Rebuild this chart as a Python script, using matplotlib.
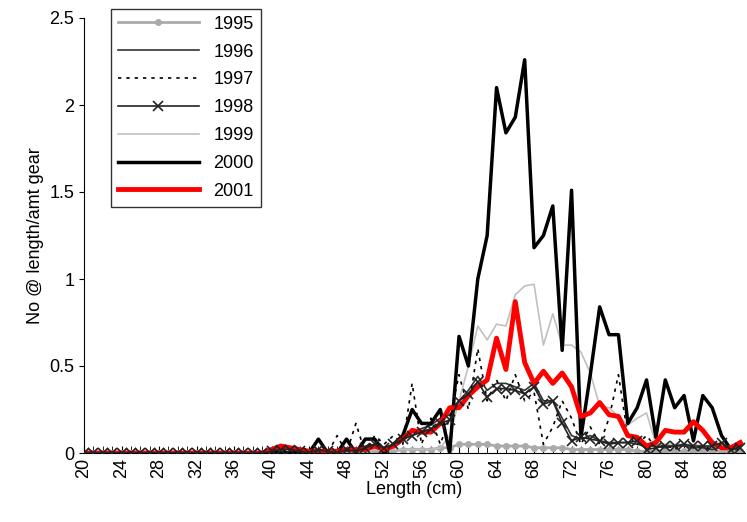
import matplotlib.pyplot as plt

plt.rcParams['font.family'] = ['Liberation Sans', 'DejaVu Sans']

lengths = list(range(20, 91))
zeros_20_39 = [0.0] * 20

# values for 40..90 (51 each)
y1995 = zeros_20_39 + [0, 0, 0, 0, 0, 0, 0, 0, 0, 0.01, 0.01, 0.01, 0, 0.01, 0.02, 0.02, 0.02, 0.02, 0.03, 0.03,
                       0.05, 0.05, 0.05, 0.05, 0.04, 0.04, 0.04, 0.04, 0.03, 0.03, 0.03, 0.03, 0.02, 0.02, 0.02,
                       0.02, 0.02, 0.02, 0.02, 0.01, 0.01, 0.01, 0.01, 0.01, 0.01, 0.01, 0.01, 0.01, 0.01, 0.01, 0.01]
y1996 = zeros_20_39 + [0.01, 0, 0.01, 0, 0, 0.02, 0, 0, 0.02, 0, 0.04, 0.05, 0.02, 0.05, 0.1, 0.12, 0.14, 0.16, 0.2, 0.22,
                       0.3, 0.36, 0.44, 0.36, 0.4, 0.4, 0.38, 0.36, 0.4, 0.3, 0.3, 0.2, 0.1, 0.08, 0.1, 0.07, 0.06,
                       0.06, 0.06, 0.05, 0.04, 0.04, 0.03, 0.04, 0.04, 0.03, 0.03, 0.02, 0.03, 0.02, 0.03]
y1997 = zeros_20_39 + [0, 0.02, 0, 0.02, 0, 0.03, 0, 0.1, 0, 0.17, 0, 0.1, 0.05, 0.1, 0.05, 0.4, 0.05, 0.2, 0.05, 0.2,
                       0.45, 0.25, 0.6, 0.3, 0.42, 0.3, 0.45, 0.3, 0.35, 0.05, 0.15, 0.3, 0.2, 0.05, 0.15, 0.05,
                       0.2, 0.45, 0.1, 0.05, 0.1, 0.03, 0.05, 0.02, 0.05, 0.03, 0.04, 0.02, 0.06, 0.02, 0.02]
y1998 = zeros_20_39 + [0.01, 0.02, 0.02, 0.01, 0, 0.02, 0.01, 0, 0.02, 0.01, 0.03, 0.05, 0.03, 0.05, 0.08, 0.1, 0.12, 0.14,
                       0.17, 0.19, 0.3, 0.34, 0.41, 0.32, 0.37, 0.37, 0.36, 0.34, 0.38, 0.28, 0.3, 0.17, 0.07, 0.09,
                       0.08, 0.07, 0.05, 0.06, 0.06, 0.07, 0.02, 0.03, 0.04, 0.04, 0.05, 0.04, 0.04, 0.04, 0.06, 0.02, 0.03]
y1999 = zeros_20_39 + [0, 0, 0, 0, 0.01, 0, 0, 0, 0.01, 0.01, 0.01, 0.02, 0.02, 0.02, 0.02, 0.02, 0.02, 0.02, 0.03, 0.1,
                       0.3, 0.5, 0.73, 0.65, 0.74, 0.73, 0.91, 0.96, 0.97, 0.62, 0.8, 0.62, 0.62, 0.58, 0.46, 0.27,
                       0.26, 0.21, 0.16, 0.2, 0.23, 0.05, 0.05, 0.05, 0.05, 0.05, 0.04, 0.04, 0.03, 0.02, 0.03]
y2000 = zeros_20_39 + [0, 0, 0, 0, 0, 0.08, 0, 0, 0.08, 0, 0.08, 0.08, 0, 0.05, 0.1, 0.25, 0.17, 0.17, 0.25, 0,
                       0.67, 0.5, 1.0, 1.25, 2.1, 1.84, 1.93, 2.26, 1.18, 1.25, 1.42, 0.59, 1.51, 0.09, 0.45, 0.84,
                       0.68, 0.68, 0.17, 0.26, 0.42, 0.09, 0.42, 0.26, 0.33, 0.07, 0.33, 0.26, 0.1, 0.02, 0.05]
y2001 = zeros_20_39 + [0.02, 0.04, 0.03, 0.02, 0.01, 0.01, 0.01, 0.01, 0.02, 0.02, 0.02, 0.04, 0.02, 0.04, 0.08, 0.13,
                       0.12, 0.12, 0.17, 0.26, 0.26, 0.33, 0.38, 0.42, 0.66, 0.48, 0.87, 0.52, 0.4, 0.47, 0.4, 0.46,
                       0.38, 0.21, 0.23, 0.29, 0.22, 0.21, 0.1, 0.09, 0.04, 0.06, 0.13, 0.12, 0.12, 0.18, 0.13, 0.06,
                       0.03, 0.03, 0.06]

fig = plt.figure(figsize=(7.47, 5.22), dpi=100)
ax = fig.add_axes([84 / 747, 1 - 453 / 522, 661 / 747, 435 / 522])

ax.plot(lengths, y1995, color='#aaaaaa', lw=2, marker='o', ms=4, label='1995')
ax.plot(lengths, y1996, color='#333333', lw=1.2, label='1996')
ax.plot(lengths, y1997, color='black', lw=1.2, ls=(0, (2, 3)), label='1997')
ax.plot(lengths, y1999, color='#c0c0c0', lw=1.2, label='1999')
ax.plot(lengths, y2000, color='black', lw=2.5, label='2000')
ax.plot(lengths, y2001, color='red', lw=3.5, label='2001')
ax.plot(lengths, y1998, color='#222222', lw=1.2, marker='x', ms=7, mew=1.2, label='1998', zorder=3)

handles, labels = ax.get_legend_handles_labels()
order = [labels.index(l) for l in ['1995', '1996', '1997', '1998', '1999', '2000', '2001']]

ax.set_xlim(20, 90.5)
ax.set_ylim(0, 2.5)
ax.set_xticks(range(20, 91, 4))
ax.set_xticks(range(20, 91), minor=True)
ax.tick_params(axis='x', which='both', direction='in', length=5, labelrotation=90, labelsize=13)
ax.tick_params(axis='y', labelsize=13)
ax.set_yticks([0, 0.5, 1, 1.5, 2, 2.5])
ax.set_yticklabels(['0', '0.5', '1', '1.5', '2', '2.5'])
for s in ['top', 'right']:
    ax.spines[s].set_visible(False)
ax.set_xlabel('Length (cm)', fontsize=13, labelpad=2)
ax.set_ylabel('No @ length/amt gear', fontsize=13)

leg = ax.legend([handles[i] for i in order], [labels[i] for i in order],
                loc='upper left', bbox_to_anchor=(23 / 661, 1.03), fontsize=13, frameon=True,
                fancybox=False, edgecolor='black', handlelength=4.5, labelspacing=0.6,
                borderaxespad=0.2)
leg.get_frame().set_linewidth(1)

fig.savefig('out.png', dpi=100)
